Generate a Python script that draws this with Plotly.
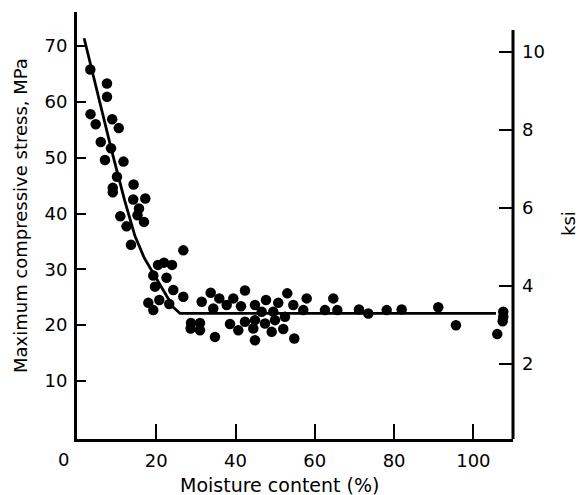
import plotly.graph_objects as go

# Data
moisture = [3.36, 7.57, 7.57, 3.41, 4.72, 8.88, 10.54, 6.0, 8.58, 7.06, 11.73, 10.09, 9.03, 9.03,
            14.28, 17.23, 14.18, 15.64, 15.26, 16.9, 10.92, 12.49, 13.62, 26.82, 20.43, 21.95,
            23.97, 19.25, 22.58, 19.68, 24.29, 26.82, 17.99, 20.76, 23.28, 19.25, 33.73, 35.9,
            39.43, 31.46, 34.38, 37.76, 28.76, 31.03, 28.68, 31.03, 34.81, 38.6, 40.69, 42.38,
            41.37, 44.9, 47.68, 50.78, 53.05, 54.57, 57.95, 57.09, 62.56, 64.66, 65.67, 46.6,
            49.52, 52.47, 42.38, 44.9, 47.43, 49.95, 44.48, 49.12, 52.04, 44.9, 54.82, 71.14,
            73.49, 78.13, 81.91, 91.14, 95.61, 106.03, 107.54, 107.54, 107.39]
stress = [65.8, 63.3, 60.9, 57.8, 56.0, 56.9, 55.3, 52.8, 51.7, 49.6, 49.3, 46.6, 44.6, 43.8,
          45.2, 42.7, 42.5, 40.9, 39.7, 38.5, 39.5, 37.7, 34.4, 33.4, 30.8, 31.2,
          30.8, 28.9, 28.5, 26.9, 26.3, 25.1, 24.0, 24.5, 23.8, 22.7, 25.8, 24.8,
          24.8, 24.2, 23.0, 23.6, 20.4, 20.4, 19.4, 19.1, 17.9, 20.2, 19.1, 26.2,
          23.4, 23.6, 24.5, 24.0, 25.7, 23.6, 24.8, 22.7, 22.7, 24.8, 22.7, 22.4,
          22.4, 21.5, 20.6, 20.9, 20.3, 20.9, 19.4, 18.8, 19.3, 17.3, 17.6, 22.8,
          22.1, 22.7, 22.8, 23.2, 20.0, 18.4, 22.4, 21.5, 20.7]

fit_x = [1.8, 8.7, 12.0, 14.6, 17.0, 19.3, 22.0, 24.3, 26.0, 105.7]
fit_y = [71.4, 51.4, 42.4, 36.0, 32.0, 29.3, 26.0, 23.2, 22.1, 22.1]

x_ticks = [20, 40, 60, 80, 100]
y_ticks = [10, 20, 30, 40, 50, 60, 70]
ksi_ticks = [2, 4, 6, 8, 10]

# layout geometry (pixels)
W, H = 581, 495
L, R, T, B = 77, 513, 12, 439

def px(xp):
    return (xp - L) / (R - L)

def py(yp):
    return (B - yp) / (B - T)

FONT = "DejaVu Sans"
TICK = 18

fig = go.Figure()
fig.add_trace(go.Scatter(x=fit_x, y=fit_y, mode="lines",
                         line=dict(color="black", width=2.8), showlegend=False,
                         hoverinfo="skip"))
fig.add_trace(go.Scatter(x=moisture, y=stress, mode="markers",
                         marker=dict(color="black", size=10.5), showlegend=False))
# invisible trace to activate the ksi axis
fig.add_trace(go.Scatter(x=[None], y=[None], yaxis="y2", showlegend=False))

fig.update_layout(
    width=W, height=H,
    margin=dict(l=L, r=W - R, t=T, b=H - B),
    paper_bgcolor="white", plot_bgcolor="white",
    font=dict(family=FONT, color="black", size=TICK),
    xaxis=dict(range=[0, 110.0], tickvals=x_ticks, ticks="inside", ticklen=15,
               tickwidth=2, tickcolor="black", showline=True, linewidth=3,
               linecolor="black", showgrid=False, zeroline=False,
               tickfont=dict(size=TICK, family=FONT), ticklabelstandoff=3),
    yaxis=dict(range=[-0.39, 76.1], tickvals=y_ticks, ticks="inside", ticklen=9,
               tickwidth=2, tickcolor="black", showline=True, linewidth=3,
               linecolor="black", showgrid=False, zeroline=False,
               tickfont=dict(size=TICK, family=FONT), ticklabelstandoff=3),
    yaxis2=dict(range=[0.077, 11.03], tickvals=ksi_ticks, ticks="inside", ticklen=14,
                tickwidth=2, tickcolor="black", overlaying="y", side="right",
                showline=False, showgrid=False, zeroline=False,
                tickfont=dict(size=TICK, family=FONT), ticklabelstandoff=8),
    shapes=[dict(type="line", xref="paper", yref="paper", x0=1, x1=1,
                 y0=0, y1=py(30), line=dict(color="black", width=3))],
    annotations=[
        dict(text="Maximum compressive stress, MPa", xref="paper", yref="paper",
             x=px(20), y=py(216), textangle=-90, showarrow=False,
             xanchor="center", yanchor="middle", font=dict(size=18, family=FONT)),
        dict(text="Moisture content (%)", xref="paper", yref="paper",
             x=px(279), y=py(485), showarrow=False,
             xanchor="center", yanchor="middle", font=dict(size=19, family=FONT)),
        dict(text="ksi", xref="paper", yref="paper",
             x=px(568), y=py(224), textangle=-90, showarrow=False,
             xanchor="center", yanchor="middle", font=dict(size=18, family=FONT)),
        dict(text="0", xref="paper", yref="paper",
             x=px(63), y=py(459), showarrow=False,
             xanchor="center", yanchor="middle", font=dict(size=TICK, family=FONT)),
    ],
)

fig.write_html("out.html")
